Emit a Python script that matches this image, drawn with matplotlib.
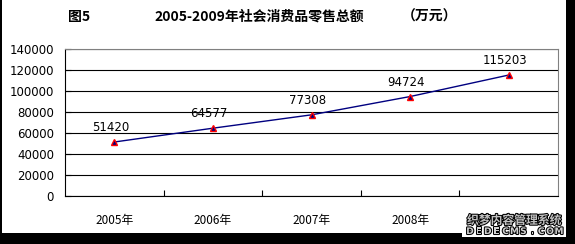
import matplotlib
matplotlib.use("Agg")
import matplotlib.pyplot as plt
import matplotlib.patheffects as pe
from matplotlib.patches import Rectangle

plt.rcParams['font.family'] = ['Noto Sans CJK SC', 'DejaVu Sans']

years = ['2005年', '2006年', '2007年', '2008年', '2009年']
values = [51420, 64577, 77308, 94724, 115203]
yticks = [0, 20000, 40000, 60000, 80000, 100000, 120000, 140000]

W, H = 575, 244
fig = plt.figure(figsize=(W / 100, H / 100), dpi=100, facecolor='black')
# white canvas inside the black frame
fig.patches.append(Rectangle((2 / W, 11 / H), 564 / W, 233 / H, transform=fig.transFigure,
                             facecolor='white', edgecolor='none', zorder=-10))

ax = fig.add_axes([65 / W, (H - 196) / H, 493 / W, 147 / H])
ax.set_facecolor('white')
x = list(range(len(values)))
ax.plot(x, values, color='#000080', lw=1, marker='^', ms=4.5,
        mfc='#000080', mec='red', mew=1, zorder=3)
for xi, v in zip(x, values):
    ax.annotate(str(v), (xi, v), xytext=(-4, 8), textcoords='offset pixels',
                ha='center', va='bottom', fontsize=8.5, family='DejaVu Sans')

ax.set_xlim(-0.5, len(values) - 0.5)
ax.set_ylim(0, 140000)
ax.set_yticks(yticks)
ax.set_yticklabels([str(t) for t in yticks], fontsize=8.5, family='DejaVu Sans')
ax.yaxis.grid(True, color='black', lw=0.8)
ax.set_axisbelow(True)
ax.tick_params(axis='y', direction='in', length=4, width=0.8, pad=8)

ax.set_xticks([i + 0.5 for i in x[:-1]])
ax.set_xticklabels([])
ax.set_xticks(x, minor=True)
ax.set_xticklabels(years, minor=True, fontsize=8.5)
ax.tick_params(axis='x', which='major', direction='in', length=4, width=0.8)
ax.tick_params(axis='x', which='minor', length=0, pad=13)

for s in ['left', 'bottom']:
    ax.spines[s].set_color('black')
    ax.spines[s].set_linewidth(0.8)
for s in ['top', 'right']:
    ax.spines[s].set_color('#808080')
    ax.spines[s].set_linewidth(0.8)

fig.text(79 / W, 1 - 16.5 / H, '图5', ha='center', va='center', fontsize=10, fontweight='bold')
fig.text(259 / W, 1 - 16.5 / H, '2005-2009年社会消费品零售总额', ha='center', va='center',
         fontsize=10, fontweight='bold')
fig.text(430 / W, 1 - 16.5 / H, '（万元）', ha='center', va='center', fontsize=10, fontweight='bold')

# watermark covering the last category label, as in the source image
fig.patches.append(Rectangle((462 / W, 1 - 237 / H), 104 / W, 25 / H, transform=fig.transFigure,
                             facecolor='white', edgecolor='none', zorder=5))
fig.text(514 / W, 1 - 220.5 / H, '织梦内容管理系统', ha='center', va='center', fontsize=8.5,
         fontweight='bold', color='#c0c0c0', zorder=6,
         path_effects=[pe.withStroke(linewidth=1.5, foreground='black')])
for i, ch in enumerate('DEDECMS.COM'):
    fig.text((470 + i * 8.9) / W, 1 - 231.5 / H, ch, ha='center', va='center', fontsize=6.5,
             fontweight='bold', color='#d0d0d0', family='DejaVu Sans', zorder=6,
             path_effects=[pe.withStroke(linewidth=1.5, foreground='black')])

fig.savefig('out.png', dpi=100, facecolor='black')
